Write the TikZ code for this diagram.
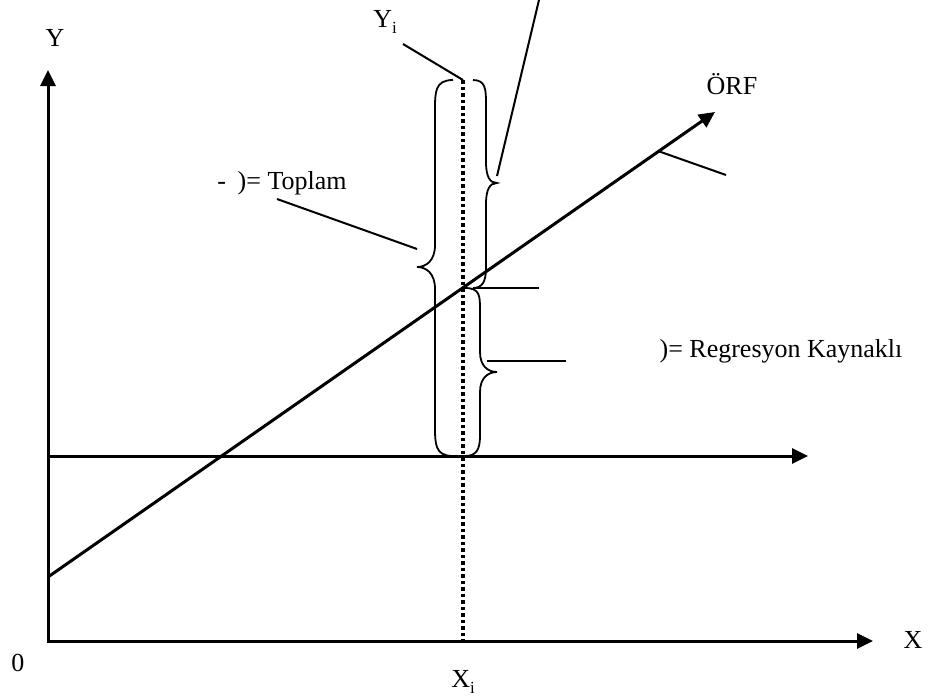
\documentclass[tikz,border=0pt]{standalone}
\usepackage{fontspec}
\setmainfont{Liberation Serif}
\usetikzlibrary{arrows.meta}
\begin{document}
\begin{tikzpicture}[x=1pt,y=-1pt,
  axis/.style={line width=3pt,-{Triangle[length=16pt,width=15pt]}},
  plain/.style={line width=3pt},
  brace/.style={line width=1.8pt},
  leader/.style={line width=2pt},
  lbl/.style={inner sep=0pt,font=\fontsize{26}{30}\selectfont},
  dotline/.style={line width=3.5pt,dash pattern=on 3.5pt off 3pt}]
\useasboundingbox (0,0) rectangle (929,697);
% axes
\coordinate (O) at (48,641);
\coordinate (Ytop) at (48,70);
\coordinate (Xend) at (873,641);
\draw[line width=3pt,{Triangle[length=16pt,width=15pt]}-{Triangle[length=16pt,width=15pt]}] (Ytop) -- (O) -- (Xend);
% mean line
\coordinate (M0) at (48,456);
\coordinate (M1) at (808,456);
\draw[axis] (M0) -- (M1);
% ORF line
\coordinate (R0) at (48,577);
\coordinate (R1) at (715,112);
\draw[axis] (R0) -- (R1);
% dotted vertical
\coordinate (D0) at (463,80);
\coordinate (D1) at (463,641);
\draw[dotline] (D0) -- (D1);
% braces
\draw[brace] (453,80) .. controls (435,80) and (435,92) .. (435,110) -- (435,245)
  .. controls (435,261) and (426,267) .. (417,267)
  .. controls (426,267) and (435,273) .. (435,289) -- (435,426)
  .. controls (435,444) and (435,456) .. (453,456);
\draw[brace] (473,80) .. controls (486,80) and (486,90) .. (486,105) -- (486,162)
  .. controls (486,177) and (490,183) .. (497,183)
  .. controls (490,183) and (486,189) .. (486,204) -- (486,268)
  .. controls (486,282) and (482,288) .. (473,288);
\draw[brace] (465,288) .. controls (480,288) and (480,296) .. (480,310) -- (480,352)
  .. controls (480,366) and (488,372) .. (497,372)
  .. controls (488,372) and (480,378) .. (480,392) -- (480,436)
  .. controls (480,450) and (476,456) .. (465,456);
% labels
\node[lbl] (ylab) at (55,38) {Y};
\node[lbl] (zero) at (18,663) {0};
\node[lbl] (xlab) at (913,640) {X};
\node[lbl] (yi) at (385,22) {Y\raisebox{-0.22em}{\fontsize{17}{17}\selectfont i}};
\node[lbl] (xi) at (463,682) {X\raisebox{-0.22em}{\fontsize{17}{17}\selectfont i}};
\node[lbl] (orf) at (732,84) {ÖRF};
\node[lbl] (top) at (282,183) {-\hspace{0.45em})= Toplam};
\node[lbl] (reg) at (781,351) {)= Regresyon Kaynaklı};
% leaders
\coordinate (a0) at (403,44); \coordinate (a1) at (463,80);
\draw[leader] (a0) -- (a1);
\coordinate (b0) at (277,199); \coordinate (b1) at (417,249);
\draw[leader] (b0) -- (b1);
\coordinate (c0) at (497,176); \coordinate (c1) at (539,0);
\draw[leader] (c0) -- (c1);
\coordinate (d0) at (658,151); \coordinate (d1) at (726,175);
\draw[leader] (d0) -- (d1);
\coordinate (e0) at (473,288); \coordinate (e1) at (539,288);
\draw[leader] (e0) -- (e1);
\coordinate (f0) at (487,361); \coordinate (f1) at (566,361);
\draw[leader] (f0) -- (f1);
\end{tikzpicture}
\end{document}
